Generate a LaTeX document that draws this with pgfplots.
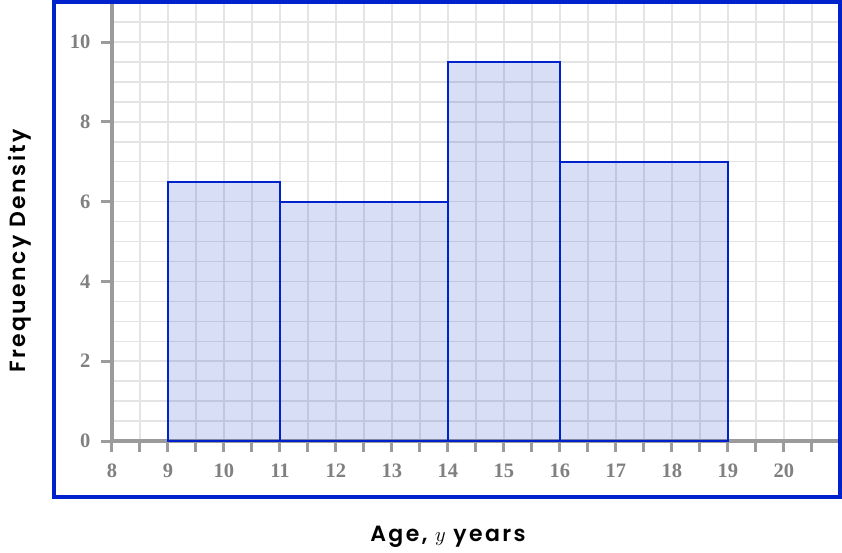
\documentclass[border=0pt]{standalone}
\usepackage{pgfplots}
\pgfplotsset{compat=1.18}
\usepackage{fontspec}
\setmainfont{Liberation Serif}
\newfontfamily\labfont{Poppins SemiBold}[LetterSpace=11]

\definecolor{frameblue}{RGB}{0,34,204}
\definecolor{axgray}{RGB}{155,155,155}
\definecolor{gridgray}{RGB}{228,228,228}
\definecolor{tickgray}{RGB}{128,128,128}

\begin{document}
\begin{tikzpicture}
\begin{axis}[
    x=56pt, y=39.9pt,
    xmin=8, xmax=21, ymin=0, ymax=11,
    axis lines=left,
    axis line style={-, draw=axgray, line width=4pt},
    xtick={8,...,20},
    minor xtick={8.5,9.5,...,20.5},
    ytick={0,2,...,10},
    minor ytick={0.5,1,...,11},
    grid=both,
    major grid style={draw=gridgray, line width=1.5pt},
    minor grid style={draw=gridgray, line width=1.5pt},
    tick align=outside,
    major tick length=11pt, minor tick length=11pt,
    tick style={draw=axgray, line width=3pt},
    minor y tick style={draw=none},
    /pgf/number format/assume math mode=true,
    ticklabel style={font=\fontsize{20.5}{22}\selectfont\bfseries, text=tickgray},
    xticklabel style={yshift=-8pt},
    yticklabel style={xshift=-7pt},
    xlabel={\labfont Age, $y$ years},
    xlabel style={at={(rel axis cs:0.4615,-0.2187)}, anchor=center,
        font=\fontsize{22}{24}\selectfont},
    ylabel={\labfont Frequency Density},
    ylabel style={at={(rel axis cs:-0.1264,0.433)}, anchor=center,
        font=\fontsize{22}{24}\selectfont},
    clip=false,
]
% histogram: class boundaries and frequency densities
\addplot[ybar interval, draw=frameblue, line width=1.8pt,
    fill=frameblue, fill opacity=0.15]
    coordinates {(9,6.5) (11,6) (14,9.5) (16,7) (19,7)};

\draw[frameblue, line width=4pt] (axis cs:6.964,-1.4035) rectangle (axis cs:21,11);
\coordinate (bbl) at (axis cs:6,-2.782);
\coordinate (btr) at (axis cs:21.036,11.053);
\end{axis}
\pgfresetboundingbox
\path[use as bounding box] (bbl) rectangle (btr);
\end{tikzpicture}
\end{document}
